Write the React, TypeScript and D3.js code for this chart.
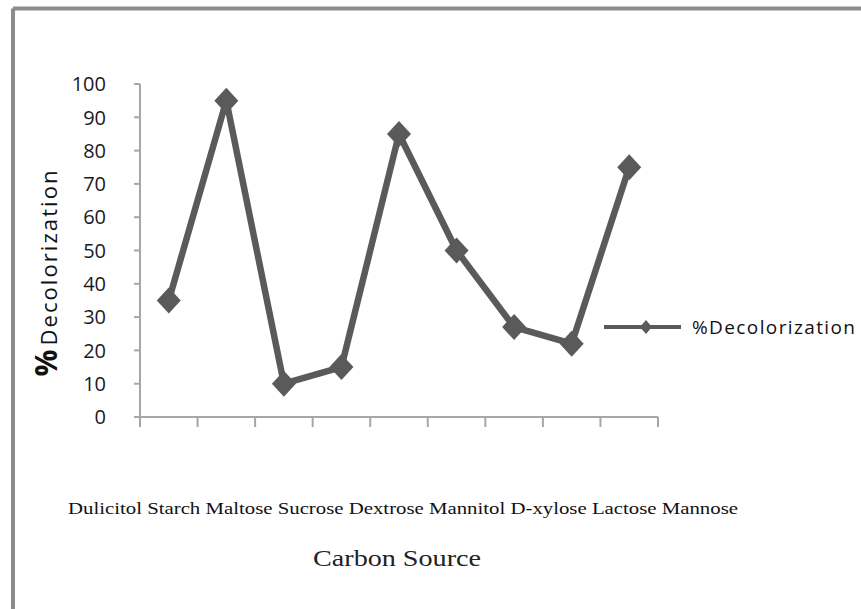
import React from "react";
import * as d3 from "d3";

const categories = ["Dulicitol", "Starch", "Maltose", "Sucrose", "Dextrose", "Mannitol", "D-xylose", "Lactose", "Mannose"];
const values = [35, 95, 10, 15, 85, 50, 27, 22, 75];
const yTicks = [0, 10, 20, 30, 40, 50, 60, 70, 80, 90, 100];
const seriesName = "%Decolorization";

const W = 861;
const H = 609;
const plot = { left: 140, right: 658, top: 84, bottom: 417 };
const color = "#5a5a5a";
const axisColor = "#a6a6a6";
const sans = "'Open Sans', 'DejaVu Sans', sans-serif";
const serif = "'Liberation Serif', 'Times New Roman', serif";

export default function App() {
  const x = d3.scaleBand<string>().domain(categories).range([plot.left, plot.right]);
  const y = d3.scaleLinear().domain([0, 100]).range([plot.bottom, plot.top]);
  const line = d3
    .line<number>()
    .x((_, i) => (x(categories[i]) as number) + x.bandwidth() / 2)
    .y((d) => y(d));
  const diamond = (cx: number, cy: number, rx: number, ry: number) =>
    `M${cx},${cy - ry}L${cx + rx},${cy}L${cx},${cy + ry}L${cx - rx},${cy}Z`;
  const tickXs = categories.map((c) => x(c) as number).concat([plot.right]);
  return (
    <svg
      width={W}
      height={H}
      style={{ position: "absolute", left: 0, top: 0, background: "#fff" }}
    >
      <rect x={0} y={0} width={W} height={H} fill="#fff" />
      {/* frame */}
      <line x1={13} y1={8.5} x2={W} y2={8.5} stroke="#8c8c8c" strokeWidth={4} />
      <line x1={13} y1={8.5} x2={13} y2={H} stroke="#8c8c8c" strokeWidth={4} />

      {/* y axis */}
      <line x1={plot.left} y1={plot.top} x2={plot.left} y2={plot.bottom} stroke={axisColor} strokeWidth={2} />
      {yTicks.map((t) => (
        <g key={t}>
          <line x1={plot.left - 6} y1={y(t)} x2={plot.left} y2={y(t)} stroke={axisColor} strokeWidth={2} />
          <text
            x={106}
            y={y(t)}
            dy="0.36em"
            textAnchor="end"
            fontFamily={sans}
            fontSize={20}
            fill="#1a1a1a"
          >
            {t}
          </text>
        </g>
      ))}
      {/* x axis */}
      <line x1={plot.left - 6} y1={plot.bottom} x2={plot.right} y2={plot.bottom} stroke={axisColor} strokeWidth={2} />
      {tickXs.map((tx, i) => (
        <line key={i} x1={tx} y1={plot.bottom} x2={tx} y2={plot.bottom + 10} stroke={axisColor} strokeWidth={2} />
      ))}

      {/* series */}
      <path d={line(values) || ""} fill="none" stroke={color} strokeWidth={6.5} strokeLinejoin="round" />
      {values.map((v, i) => (
        <path
          key={i}
          d={diamond((x(categories[i]) as number) + x.bandwidth() / 2, y(v), 12, 13)}
          fill={color}
        />
      ))}

      {/* y axis title */}
      <text
        transform="translate(57, 363) rotate(-90)"
        textAnchor="middle"
        fontFamily={sans}
        fontSize={30}
        fontWeight="bold"
        fill="#111"
      >
        %
      </text>
      <text
        transform="translate(57, 258) rotate(-90)"
        textAnchor="middle"
        fontFamily={sans}
        fontSize={22}
        fill="#111"
        textLength={175}
        lengthAdjust="spacing"
      >
        Decolorization
      </text>

      {/* category labels */}
      <text
        x={68}
        y={514}
        fontFamily={serif}
        fontSize={16}
        fill="#111"
        textLength={670}
        lengthAdjust="spacingAndGlyphs"
      >
        {categories.join(" ")}
      </text>

      {/* x axis title */}
      <text
        x={313}
        y={566}
        fontFamily={serif}
        fontSize={24}
        fill="#222"
        textLength={168}
        lengthAdjust="spacingAndGlyphs"
      >
        Carbon Source
      </text>

      {/* legend */}
      <line x1={604} y1={327} x2={681} y2={327} stroke={color} strokeWidth={4} />
      <path d={diamond(646, 327, 6, 7)} fill={color} />
      <text
        x={692}
        y={327}
        dy="0.36em"
        fontFamily={sans}
        fontSize={19}
        fill="#111"
        textLength={163}
        lengthAdjust="spacing"
      >
        {seriesName}
      </text>
    </svg>
  );
}
